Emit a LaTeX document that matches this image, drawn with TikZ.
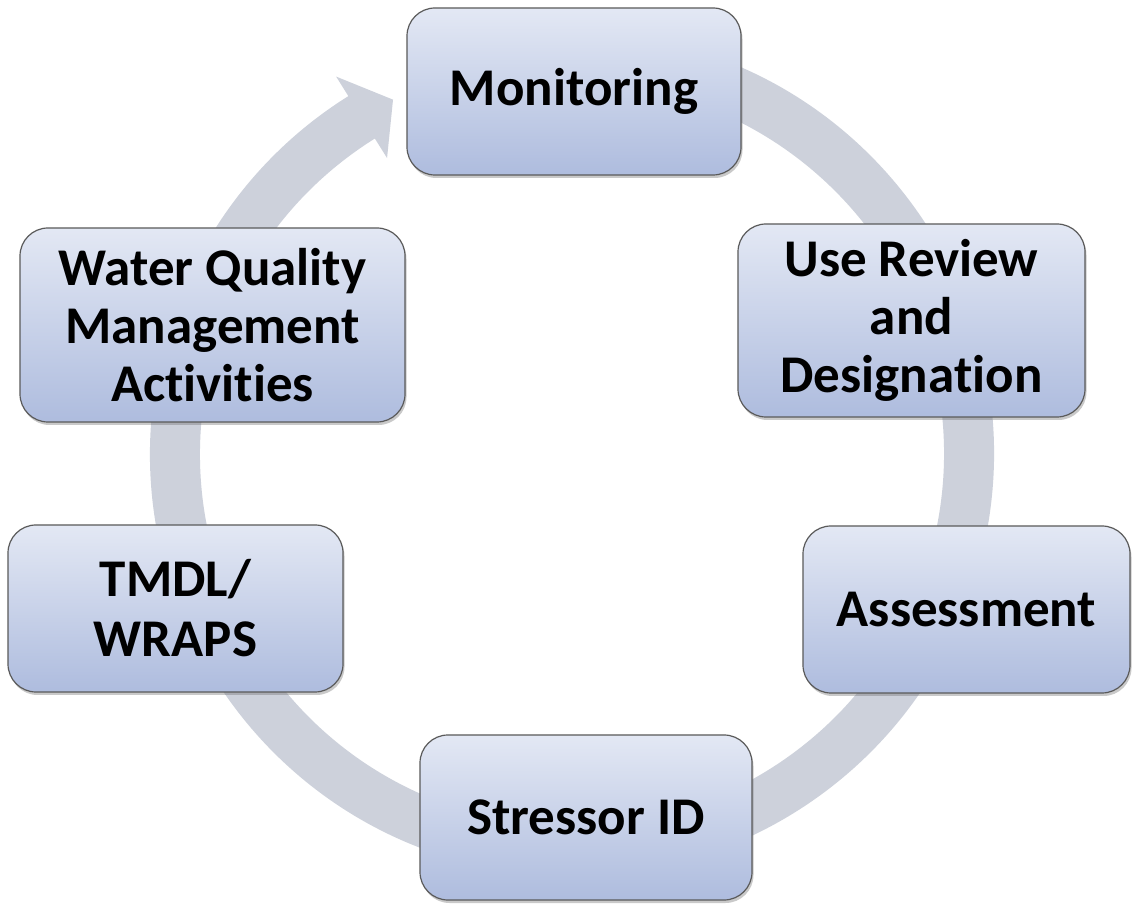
\documentclass[tikz,border=0pt]{standalone}
\usepackage{fontspec}
\setmainfont{Carlito}[RawFeature={-liga;-clig;-calt;-dlig}]
\usetikzlibrary{shadows}
\definecolor{ringc}{RGB}{205,209,219}
\definecolor{boxtop}{RGB}{227,232,244}
\definecolor{boxbot}{RGB}{174,188,222}
\definecolor{boxline}{RGB}{90,90,90}
\tikzset{
  stagebox/.style={rounded corners=28pt, draw=boxline, line width=1.2pt,
    top color=boxtop, bottom color=boxbot, inner sep=0pt, align=center,
    font=\fontsize{53}{58}\selectfont\bfseries,
    drop shadow={shadow xshift=1.5pt, shadow yshift=-3pt, opacity=0.35, fill=black!60}},
}
\begin{document}
\begin{tikzpicture}[x=1pt,y=1pt]
\useasboundingbox[fill=white] (0,0) rectangle (1133,903);
% ring with arrowhead
\begin{scope}[shift={(572,449)}]
\fill[ringc] (80:422pt) arc[start angle=80,end angle=-238,radius=422pt]
  -- (-238:445pt) -- (-243.2:397pt) -- (-238:349pt) -- (-238:372pt)
  arc[start angle=-238,end angle=80,radius=372pt] -- cycle;
\end{scope}
% stages
\node[stagebox, minimum width=334pt, minimum height=167pt] (mon) at (574,811.5) {Monitoring};
\node[stagebox, minimum width=347pt, minimum height=193pt] (use) at (911.5,582.5) {Use Review\\and\\Designation};
\node[stagebox, minimum width=327pt, minimum height=167pt] (ass) at (966.5,293.5) {Assessment};
\node[stagebox, minimum width=332pt, minimum height=165pt] (str) at (586,85.5) {Stressor ID};
\node[stagebox, minimum width=335pt, minimum height=167pt, font=\fontsize{53}{60}\selectfont\bfseries] (tmdl) at (175.5,294.5) {TMDL/\\WRAPS};
\node[stagebox, minimum width=385pt, minimum height=194pt] (wq) at (212.5,578) {Water Quality\\Management\\Activities};
\end{tikzpicture}
\end{document}
